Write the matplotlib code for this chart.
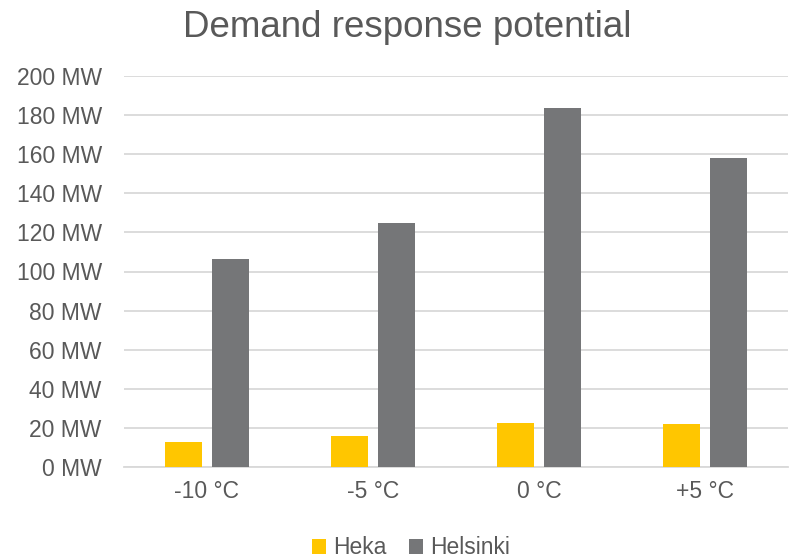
import matplotlib.pyplot as plt
import numpy as np

# Demand response potential per outdoor temperature
temperatures = ["-10 °C", "-5 °C", "0 °C", "+5 °C"]
heka_mw = [13.0, 16.0, 22.7, 22.2]
helsinki_mw = [106.5, 125.0, 183.5, 158.0]
y_ticks = [0, 20, 40, 60, 80, 100, 120, 140, 160, 180, 200]

yellow = "#FFC600"
grey = "#757678"
text_grey = "#595959"

plt.rcParams['font.family'] = ['Liberation Sans', 'DejaVu Sans']

fig = plt.figure(figsize=(7.9, 5.58), dpi=100)
ax = fig.add_axes([124 / 790, 1 - 467 / 558, 664 / 790, 391 / 558])

x = np.arange(len(temperatures))
width = 0.223
offset = 0.1416
ax.bar(x - offset, heka_mw, width, color=yellow, label="Heka", zorder=3)
ax.bar(x + offset, helsinki_mw, width, color=grey, label="Helsinki", zorder=3)

ax.set_xlim(-0.5, len(temperatures) - 0.5)
ax.set_ylim(0, 200)
ax.set_yticks(y_ticks)
ax.set_yticklabels([f"{v} MW" for v in y_ticks])
ax.set_xticks(x)
ax.set_xticklabels(temperatures)

ax.grid(axis='y', color="#D9D9D9", linewidth=1.3, zorder=0)
for side in ['left', 'right', 'top']:
    ax.spines[side].set_visible(False)
ax.spines['bottom'].set_color("#D9D9D9")
ax.spines['bottom'].set_linewidth(1.3)
ax.tick_params(axis='y', length=0, pad=16, labelsize=16.5, labelcolor=text_grey)
ax.tick_params(axis='x', length=0, pad=9, labelsize=16.5, labelcolor=text_grey)

fig.text(407 / 790, 1 - 37 / 558, "Demand response potential", ha='center', va='baseline',
         fontsize=26.5, color=text_grey)

fig.legend(loc='center', bbox_to_anchor=(411 / 790, 1 - 548 / 558), ncol=2, frameon=False,
           fontsize=16.5, labelcolor=text_grey, handlelength=0.6, handleheight=0.6,
           handletextpad=0.3, columnspacing=1.0, borderpad=0)

fig.savefig("out.png", dpi=100)
